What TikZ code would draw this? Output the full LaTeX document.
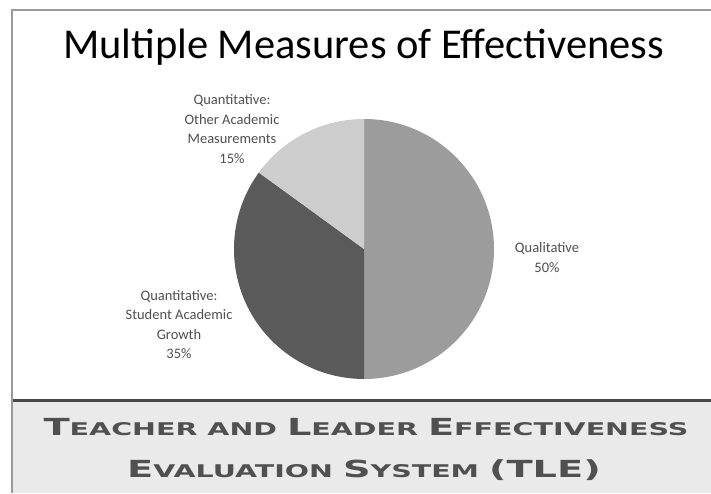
\documentclass[tikz,border=0pt]{standalone}
\usepackage{fontspec}
\setmainfont{Carlito}
\newfontfamily\bandfont{DejaVu Sans}
\definecolor{qualcol}{HTML}{9C9C9C}
\definecolor{growcol}{HTML}{5A5A5A}
\definecolor{othercol}{HTML}{CDCDCD}
\definecolor{labcol}{HTML}{505050}
\definecolor{bandbg}{HTML}{EAEAEA}
\definecolor{bandtxt}{HTML}{505050}
\definecolor{framecol}{HTML}{9A9A9A}
\newcommand{\bigC}[1]{{\fontsize{23.5}{23.5}\selectfont #1}}
\newcommand{\smC}[1]{{\fontsize{17.5}{17.5}\selectfont #1}}
\tikzset{
  slicelab/.style={font=\fontsize{14.5}{19.5}\selectfont, text=labcol, align=center, inner sep=0pt},
  bandtext/.style={font=\bandfont\bfseries, text=bandtxt, draw=none, anchor=base, inner sep=0pt, xscale=1.63, transform shape}
}
\begin{document}
\begin{tikzpicture}[x=1pt,y=1pt]
\useasboundingbox (0,0) rectangle (711,493);
\fill[white] (0,0) rectangle (711,493);
% band
\fill[bandbg] (12,0) rectangle (711,93);
\draw[line width=3pt, color=growcol!80!black] (12,93) -- (711,93);
% frame
\draw[framecol, line width=2pt] (12,0) -- (12,483) -- (711,483);
% title
\node[font=\fontsize{42.5}{42.5}\selectfont, anchor=base, inner sep=0pt] (title) at (363.5,434) {Multiple Measures of Effectiveness};
% pie
\coordinate (c) at (364,244);
\fill[qualcol] (c) -- ++(90:130) arc (90:-90:130) -- cycle;
\fill[growcol] (c) -- ++(144:130) arc (144:270:130) -- cycle;
\fill[othercol] (c) -- ++(90:130) arc (90:144:130) -- cycle;
% labels
\node[slicelab] (lother) at (232,364) {Quantitative:\\Other Academic\\Measurements\\15\%};
\node[slicelab] (lgrow) at (179,168.5) {Quantitative:\\Student Academic\\Growth\\35\%};
\node[slicelab] (lqual) at (547,235.5) {Qualitative\\50\%};
% band text
\node[bandtext] (band1) at (366,58) {\bigC{T}\smC{EACHER AND }\bigC{L}\smC{EADER }\bigC{E}\smC{FFECTIVENESS}};
\node[bandtext] (band2) at (364,16) {\bigC{E}\smC{VALUATION }\bigC{S}\smC{YSTEM }\bigC{(TLE)}};
\end{tikzpicture}
\end{document}
